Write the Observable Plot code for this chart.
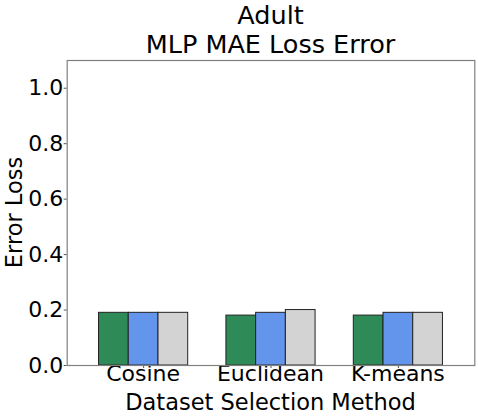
<!DOCTYPE html>
<html>
<head>
<meta charset="utf-8">
<script src="https://cdn.jsdelivr.net/npm/d3@7"></script>
<script src="https://cdn.jsdelivr.net/npm/@observablehq/plot@0.6"></script>
<style>
  html, body { margin: 0; padding: 0; background: #fff; }
  #chart svg { display: block; font-family: "DejaVu Sans", sans-serif; }
</style>
</head>
<body>
<div id="chart"></div>
<script>
const titleLines = ["Adult", "MLP MAE Loss Error"];
const xLabel = "Dataset Selection Method";
const yLabel = "Error Loss";
const categories = ["Cosine", "Euclidean", "K-means"];
const seriesNames = ["Series 1", "Series 2", "Series 3"];
const seriesColors = ["#2E8B57", "#6495ED", "#D3D3D3"];
const series1 = [0.19, 0.18, 0.18];
const series2 = [0.19, 0.19, 0.19];
const series3 = [0.19, 0.20, 0.19];
const yTicks = [0.0, 0.2, 0.4, 0.6, 0.8, 1.0];

const seriesValues = [series1, series2, series3];
const groupWidth = 0.7;
const barW = groupWidth / seriesNames.length;
const rows = [];
categories.forEach((c, gi) => {
  seriesNames.forEach((s, si) => {
    rows.push({category: c, series: s, value: seriesValues[si][gi], gi, si});
  });
});

const W = 478, H = 418;
const mL = 66.7, mR = 3.7, mT = 60, mB = 53;

const chart = Plot.plot({
  width: W,
  height: H,
  marginLeft: mL,
  marginRight: mR,
  marginTop: mT,
  marginBottom: mB,
  style: {fontFamily: "DejaVu Sans, sans-serif", fontSize: "22px", color: "#000", background: "#fff"},
  x: {
    type: "linear",
    domain: [-0.6, 2.6],
    ticks: categories.map((_, i) => i),
    tickFormat: i => categories[i],
    tickSize: 3,
    tickPadding: 2,
    label: null
  },
  y: {
    domain: [0, 1.1],
    ticks: yTicks,
    tickFormat: d3.format(".1f"),
    tickSize: 3,
    tickPadding: 1,
    label: null
  },
  color: {domain: seriesNames, range: seriesColors},
  marks: [
    Plot.rectY(rows, {
      x1: d => d.gi + (d.si - seriesNames.length / 2) * barW,
      x2: d => d.gi + (d.si - seriesNames.length / 2 + 1) * barW,
      y1: 0,
      y2: "value",
      fill: "series",
      stroke: "#222",
      strokeWidth: 1
    }),
    Plot.frame({stroke: "#808080", strokeWidth: 1.2})
  ]
});

const svg = d3.select(chart);
svg.selectAll("[aria-label='x-axis tick label'] text, [aria-label='y-axis tick label'] text")
  .attr("fill", "#000");
svg.selectAll("[aria-label='x-axis tick'] path, [aria-label='y-axis tick'] path")
  .attr("stroke", "#555");
svg.select("[aria-label='x-axis tick label']").attr("transform", null);

const cx = mL + (W - mL - mR) / 2;
svg.append("text")
  .attr("x", cx).attr("y", 24)
  .attr("text-anchor", "middle")
  .attr("font-size", "25.5px")
  .attr("fill", "#000")
  .text(titleLines[0]);
svg.append("text")
  .attr("x", cx).attr("y", 53)
  .attr("text-anchor", "middle")
  .attr("font-size", "25.5px")
  .attr("fill", "#000")
  .text(titleLines[1]);
svg.append("text")
  .attr("x", cx).attr("y", 410)
  .attr("text-anchor", "middle")
  .attr("font-size", "22.5px")
  .attr("fill", "#000")
  .text(xLabel);
svg.append("text")
  .attr("transform", `translate(21.5, ${mT + (H - mT - mB) / 2}) rotate(-90)`)
  .attr("text-anchor", "middle")
  .attr("font-size", "22.5px")
  .attr("fill", "#000")
  .text(yLabel);

document.getElementById("chart").appendChild(chart);
</script>
</body>
</html>
